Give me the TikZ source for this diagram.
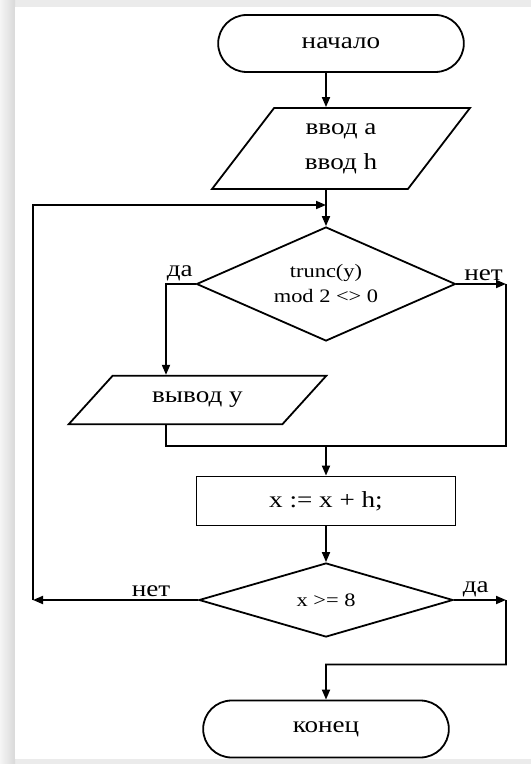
\documentclass[tikz,border=0pt]{standalone}
\usepackage{fontspec}
\setmainfont[FakeStretch=1.18]{Liberation Serif}
\usepackage{tikz}
\usetikzlibrary{shapes.geometric, shapes.misc, positioning, arrows.meta}

\tikzset{
    term/.style={draw, rounded rectangle, minimum width=129.5pt, minimum height=28.5pt},
    inbox/.style={draw, trapezium, trapezium stretches=true, trapezium left angle=58, trapezium right angle=122,
        minimum width=129pt, minimum height=40.5pt, align=center},
    outbox/.style={draw, trapezium, trapezium stretches=true, trapezium left angle=43, trapezium right angle=137,
        minimum width=129.5pt, minimum height=24.25pt, inner sep=2pt},
    proc/.style={draw, rectangle, minimum width=129.5pt, minimum height=24.5pt},
    cond/.style={draw, diamond, inner sep=0pt, align=center, font=\fontsize{9.5pt}{12.5pt}\selectfont},
    lbl/.style={inner sep=1pt}
}

\begin{document}
\begin{tikzpicture}[x=0.5pt, y=-0.5pt, on grid, line width=0.9pt, >={Triangle[length=5pt, width=4pt]},
        font=\fontsize{11.5pt}{17.5pt}\selectfont]
            \useasboundingbox (0,0) rectangle (531,764);
            \fill[gray!16] (0,0) rectangle (531,764);
            \shade[left color=gray!8, right color=gray!30, draw=none] (0,0) rectangle (15,764);
            \fill[white] (15,7) rectangle (531,759);

            \node[term] (start) at (341,43.5) {начало};
            \node[inbox] (in1) [below=52.5pt of start] {ввод a\\ввод h};
            \node[cond, aspect=2.27, minimum width=129.5pt, minimum height=57pt] (if1) [below=67.75pt of in1, xshift=-7.5pt] {trunc(y)\\mod 2 <> 0};
            \node[outbox] (out1) [below left=58pt and 64.25pt of if1] {вывод y};
            \node[proc] (calc) [below=108.5pt of if1] {x := x + h;};
            \node[cond, aspect=3.43, minimum width=127pt, minimum height=37pt] (if2) [below=49.5pt of calc] {x >= 8};
            \node[term] (stop) [below=64.5pt of if2] {конец};

            \coordinate (loop) at (326,205);
            \coordinate (yes1) at (166,284);
            \coordinate (no1) at (506,284);
            \coordinate (join) at (326,446);
            \coordinate (no2) at (33,600);
            \coordinate (yes2) at (506,600);
            \coordinate (exit) at (326,664.5);

            \node[lbl, anchor=south east] (yes1t) at (if1.west) {да};
            \node[lbl, anchor=south west, xshift=2.5pt] (no1t) at (if1.east) {нет};
            \node[lbl, anchor=south east, xshift=-12.5pt] (no2t) at (if2.west) {нет};
            \node[lbl, anchor=south west, xshift=3pt] (yes2t) at (if2.east) {да};

            \draw[->] (start.south -| if1) -- (in1.north -| if1);
            \draw[->] (in1.south -| if1) -- (if1.north);
            \draw[->] (if1.west) -- (yes1) -- (yes1 |- out1.north);
            \draw[->] (if1.east) -- (no1);
            \draw (no1) |- (yes1 |- join) -- (yes1 |- out1.south);
            \draw[->] (join) -- (calc);
            \draw[->] (calc) -- (if2);
            \draw[->] (if2.west) -- (no2);
            \draw[->] (no2) |- (loop);
            \draw[->] (if2.east) -- (yes2);
            \draw[->] (yes2) |- (exit) -- (stop);
        \end{tikzpicture}
\end{document}
